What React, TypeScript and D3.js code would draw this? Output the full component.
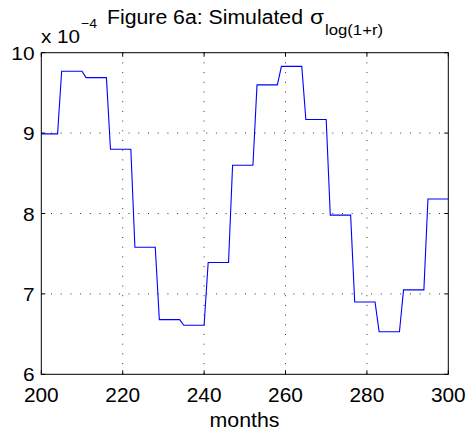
import React from "react";
import * as d3 from "d3";

// Step levels of simulated sigma (in units of 1e-4)
const stepStart: number[] = [200, 205, 211, 217, 223, 229, 235, 241, 247, 253, 259, 265, 271, 277, 283, 289, 295];
const stepEnd: number[] = [204, 210, 216, 222, 228, 234, 240, 246, 252, 258, 264, 270, 276, 282, 288, 294, 300];
const stepValue: number[] = [8.99, 9.77, 9.69, 8.80, 7.58, 6.68, 6.61, 7.39, 8.60, 9.60, 9.83, 9.17, 7.98, 6.90, 6.53, 7.05, 8.18];

const xTicks: number[] = [200, 220, 240, 260, 280, 300];
const yTicks: number[] = [6, 7, 8, 9, 10];

const W = 470;
const H = 435;
const left = 41.3;
const right = 448.3;
const top = 52.7;
const bottom = 374.3;
const FONT = "'Liberation Sans', Arial, Helvetica, sans-serif";
const DIGIT_W = 11.6;

export default function App() {
  const x = d3.scaleLinear().domain([200, 300]).range([left, right]);
  const y = d3.scaleLinear().domain([6, 10]).range([bottom, top]);

  const pts: [number, number][] = [];
  stepStart.forEach((s, i) => {
    pts.push([s, stepValue[i]]);
    pts.push([stepEnd[i], stepValue[i]]);
  });
  const line = d3
    .line<[number, number]>()
    .x((d) => x(d[0]))
    .y((d) => y(d[1]));

  const tl = 4;
  const gridDash = "1 8.7";

  return (
    <svg
      width={W}
      height={H}
      style={{ position: "absolute", left: 0, top: 0, background: "#fff" }}
      fontFamily={FONT}
    >
      <rect x={0} y={0} width={W} height={H} fill="#fff" />
      {/* grid */}
      {xTicks.slice(1, -1).map((t) => (
        <line
          key={"gx" + t}
          x1={x(t)}
          x2={x(t)}
          y1={top}
          y2={bottom}
          stroke="#333"
          strokeWidth={1}
          strokeDasharray={gridDash}
        />
      ))}
      {yTicks.slice(1, -1).map((t) => (
        <line
          key={"gy" + t}
          x1={left}
          x2={right}
          y1={y(t)}
          y2={y(t)}
          stroke="#333"
          strokeWidth={1}
          strokeDasharray={gridDash}
        />
      ))}
      {/* ticks */}
      {xTicks.map((t) => (
        <g key={"tx" + t}>
          <line x1={x(t)} x2={x(t)} y1={bottom} y2={bottom - tl} stroke="#000" />
          <line x1={x(t)} x2={x(t)} y1={top} y2={top + tl} stroke="#000" />
          <text
            x={x(t)}
            y={401.5}
            fontSize={19.5}
            textAnchor="middle"
            fill="#000"
            textLength={String(t).length * DIGIT_W}
            lengthAdjust="spacingAndGlyphs"
          >
            {t}
          </text>
        </g>
      ))}
      {yTicks.map((t) => (
        <g key={"ty" + t}>
          <line x1={left} x2={left + tl} y1={y(t)} y2={y(t)} stroke="#000" />
          <line x1={right} x2={right - tl} y1={y(t)} y2={y(t)} stroke="#000" />
          <text
            x={34.5}
            y={y(t) + 7}
            fontSize={19}
            textAnchor="end"
            fill="#000"
            textLength={String(t).length * DIGIT_W}
            lengthAdjust="spacingAndGlyphs"
          >
            {t}
          </text>
        </g>
      ))}
      {/* data */}
      <path d={line(pts) || ""} fill="none" stroke="#0000ff" strokeWidth={1.1} />
      {/* box */}
      <rect
        x={left}
        y={top}
        width={right - left}
        height={bottom - top}
        fill="none"
        stroke="#000"
        strokeWidth={1}
      />
      {/* exponent label */}
      <text x={41} y={42.7} fontSize={19} fill="#000" textLength={39} lengthAdjust="spacingAndGlyphs">
        x 10
      </text>
      <text x={81} y={28.3} fontSize={13} fill="#000" textLength={16} lengthAdjust="spacingAndGlyphs">
        −4
      </text>
      {/* title */}
      <text x={107} y={24} fontSize={20} fill="#000" textLength={196} lengthAdjust="spacingAndGlyphs">
        Figure 6a: Simulated
      </text>
      <text x={310} y={24} fontSize={20} fill="#000" textLength={14} lengthAdjust="spacingAndGlyphs">
        σ
      </text>
      <text x={325} y={34.5} fontSize={15} fill="#000" textLength={58} lengthAdjust="spacingAndGlyphs">
        log(1+r)
      </text>
      {/* x label */}
      <text x={244.5} y={427} fontSize={19.5} textAnchor="middle" fill="#000" textLength={70} lengthAdjust="spacingAndGlyphs">
        months
      </text>
    </svg>
  );
}
